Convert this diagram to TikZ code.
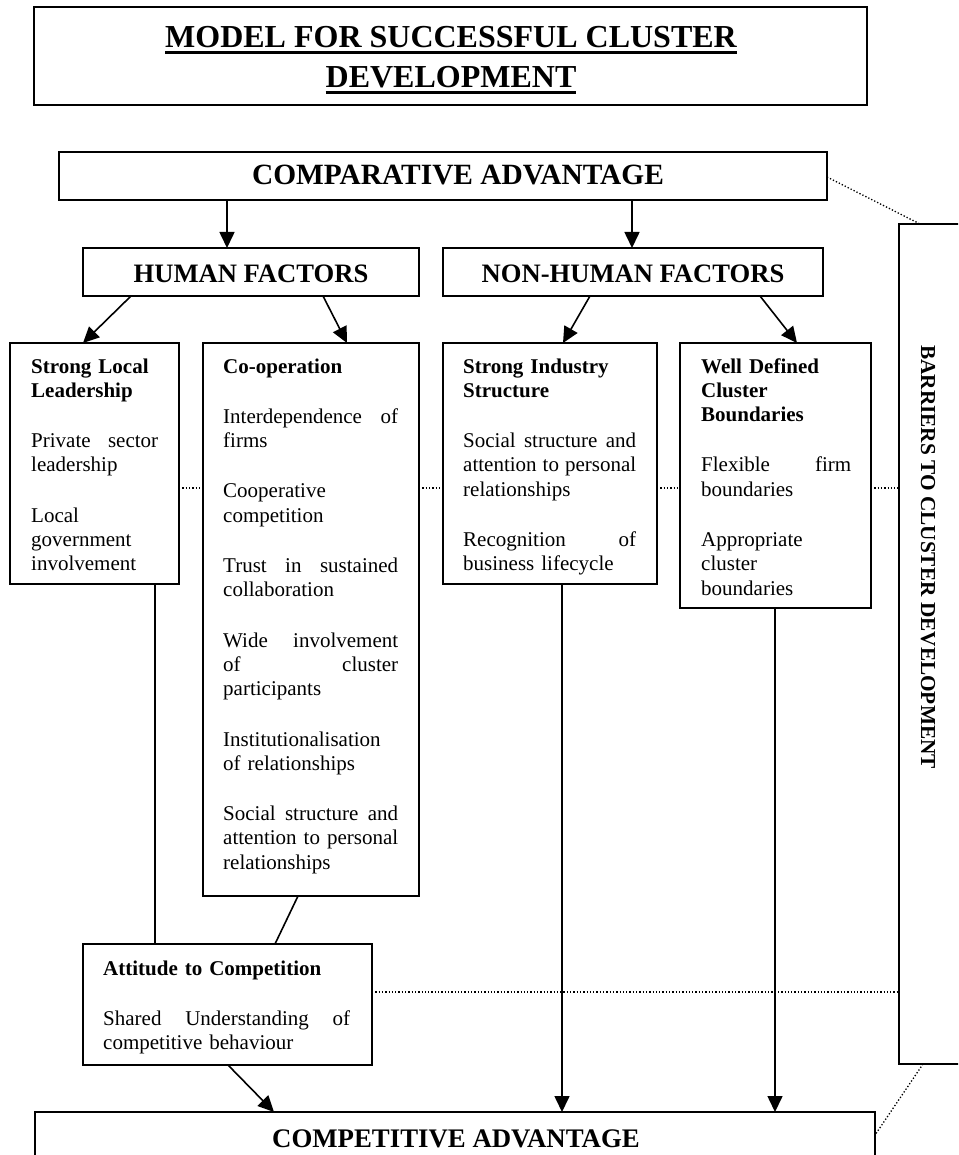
\documentclass[tikz,border=0pt]{standalone}
\usepackage{fontspec}
\setmainfont{Liberation Serif}
\usetikzlibrary{arrows.meta}
\newcommand\bodyfont{\fontsize{21}{24.3}\selectfont}
\newcommand\jline[1]{\leavevmode\hbox to\linewidth{#1}}
\newcommand\ulbar[1]{\setbox0\hbox{#1}\rlap{\rule[-6pt]{\wd0}{3pt}}\box0}
\begin{document}
\begin{tikzpicture}[x=1pt,y=-1pt,
  box/.style={draw, line width=1.5pt, inner sep=0pt, outer sep=0pt, anchor=north west},
  txt/.style={anchor=base west, inner sep=0pt, align=left, font=\bodyfont},
  head/.style={anchor=base, inner sep=0pt, font=\bfseries},
  arr/.style={line width=1.6pt, -{Triangle[length=16pt,width=15pt]}},
  link/.style={line width=1.6pt},
  dots/.style={line width=1.3pt, dash pattern=on 1.3pt off 2pt},
]
\useasboundingbox (0,0) rectangle (958,1155);
\clip (0,0) rectangle (958,1155);

% title
\node[box, minimum width=833pt, minimum height=98pt] (titlebox) at (34,7) {};
\node[head, font=\fontsize{32}{40}\selectfont\bfseries] (title1) at (451,48)
  {\ulbar{MODEL FOR SUCCESSFUL CLUSTER}};
\node[head, font=\fontsize{32}{40}\selectfont\bfseries] (title2) at (451,88)
  {\ulbar{DEVELOPMENT}};

% top level
\node[box, minimum width=768pt, minimum height=48pt] (comp) at (59,152) {};
\node[head, font=\fontsize{29.4}{32}\selectfont\bfseries] (comptxt) at (458,185) {COMPARATIVE ADVANTAGE};

\node[box, minimum width=336pt, minimum height=48pt] (hum) at (83,248) {};
\node[head, font=\fontsize{26.6}{30}\selectfont\bfseries] (humtxt) at (251,283) {HUMAN FACTORS};
\node[box, minimum width=380pt, minimum height=48pt] (non) at (443,248) {};
\node[head, font=\fontsize{26.6}{30}\selectfont\bfseries] (nontxt) at (633,283) {NON-HUMAN FACTORS};

% factor boxes
\node[box, minimum width=169pt, minimum height=241pt] (sll) at (10,343) {};
\node[txt, text width=127pt] (slltxt) at (31,373)
  {\textbf{Strong Local}\\\textbf{Leadership}\\[26pt]
   \jline{Private\hfill sector}\\leadership\\[26pt]
   Local\\government\\involvement};

\node[box, minimum width=216pt, minimum height=553pt] (coop) at (203,343) {};
\node[txt, text width=175pt] (cooptxt) at (223,373)
  {\textbf{Co-operation}\\[26pt]
   \jline{Interdependence\hfill of}\\firms\\[26pt]
   Cooperative\\competition\\[26pt]
   \jline{Trust\hfill in\hfill sustained}\\collaboration\\[26pt]
   \jline{Wide\hfill involvement}\\\jline{of\hfill cluster}\\participants\\[26pt]
   Institutionalisation\\of relationships\\[26pt]
   \jline{Social\hfill structure\hfill and}\\\jline{attention\hfill to\hfill personal}\\relationships};

\node[box, minimum width=214pt, minimum height=241pt] (sis) at (443,343) {};
\node[txt, text width=173pt] (sistxt) at (463,373)
  {\textbf{Strong Industry}\\\textbf{Structure}\\[26pt]
   \jline{Social\hfill structure\hfill and}\\\jline{attention\hfill to\hfill personal}\\relationships\\[26pt]
   \jline{Recognition\hfill of}\\business lifecycle};

\node[box, minimum width=191pt, minimum height=265pt] (wdcb) at (680,343) {};
\node[txt, text width=150pt] (wdcbtxt) at (701,373)
  {\textbf{Well Defined}\\\textbf{Cluster}\\\textbf{Boundaries}\\[26pt]
   \jline{Flexible\hfill firm}\\boundaries\\[26pt]
   Appropriate\\cluster\\boundaries};

\node[box, minimum width=289pt, minimum height=121pt] (att) at (83,944) {};
\node[txt, text width=247pt] (atttxt) at (103,975)
  {\textbf{Attitude to Competition}\\[26pt]
   \jline{Shared\hfill Understanding\hfill of}\\competitive behaviour};

% barriers
\node[box, minimum width=80pt, minimum height=840pt] (bar) at (899,224) {};
\node[inner sep=0pt, rotate=-90, font=\fontsize{21.3}{24}\selectfont\bfseries] (bartxt) at (928,557)
  {BARRIERS TO CLUSTER DEVELOPMENT};

% bottom
\node[box, minimum width=840pt, minimum height=70pt] (cadv) at (35,1112) {};
\node[head, font=\fontsize{26.8}{32}\selectfont\bfseries] (cadvtxt) at (456,1147) {COMPETITIVE ADVANTAGE};

% arrows
\draw[arr] (comp.south -| 227,0) -- (hum.north -| 227,0);
\draw[arr] (comp.south -| 632,0) -- (non.north -| 632,0);
\draw[arr] ([xshift=48pt]hum.south west) -- ([xshift=73pt]sll.north west);
\draw[arr] ([xshift=240pt]hum.south west) -- ([xshift=144pt]coop.north west);
\draw[arr] ([xshift=147pt]non.south west) -- ([xshift=120pt]sis.north west);
\draw[arr] ([xshift=317pt]non.south west) -- ([xshift=117pt]wdcb.north west);
\draw[link] ([xshift=145pt]sll.south west) -- ([xshift=72pt]att.north west);
\draw[link] ([xshift=95pt]coop.south west) -- ([xshift=192pt]att.north west);
\draw[arr] ([xshift=145pt]att.south west) -- ([xshift=239pt]cadv.north west);
\draw[arr] ([xshift=119pt]sis.south west) -- ([xshift=527pt]cadv.north west);
\draw[arr] ([xshift=95pt]wdcb.south west) -- ([xshift=740pt]cadv.north west);

% dotted links
\draw[dots] ([yshift=-1pt]comp.east) -- ([xshift=21pt]bar.north west);
\draw[dots] ([xshift=24pt]bar.south west) -- ([yshift=-23pt]cadv.north east);
\draw[dots] ([yshift=-145pt]sll.north east) -- ([yshift=-145pt]sll.north east -| coop.west);
\draw[dots] ([yshift=-145pt]coop.north east) -- ([yshift=-145pt]coop.north east -| sis.west);
\draw[dots] ([yshift=-145pt]sis.north east) -- ([yshift=-145pt]sis.north east -| wdcb.west);
\draw[dots] ([yshift=-145pt]wdcb.north east) -- ([yshift=-145pt]wdcb.north east -| bar.west);
\draw[dots] ([yshift=-48pt]att.north east) -- ([yshift=-48pt]att.north east -| bar.west);
\end{tikzpicture}
\end{document}
